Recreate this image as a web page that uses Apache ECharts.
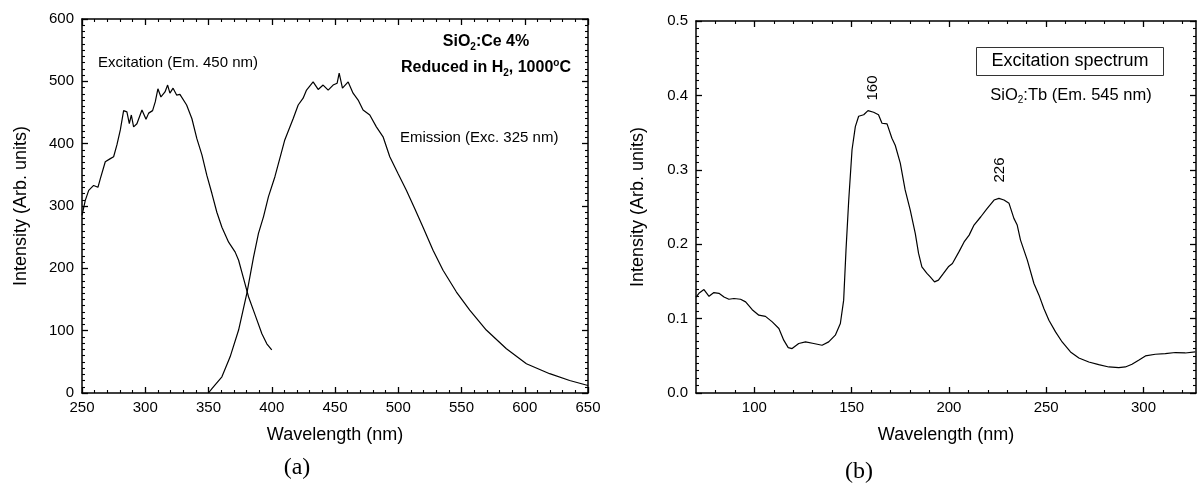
<!DOCTYPE html>
<html>
<head>
<meta charset="utf-8">
<script src="https://cdn.jsdelivr.net/npm/echarts@6/dist/echarts.min.js"></script>
<style>
html,body{margin:0;padding:0;background:#fff;}
#c{width:1201px;height:487px;}
</style>
</head>
<body>
<div id="c"></div>
<script>
// ---- Data ----
// (a) SiO2:Ce excitation spectrum (Em. 450 nm)
const excX = [250,252.6,255.3,259.2,262.6,264.5,268.4,272.4,275,277.6,280.3,282.9,285.5,287.4,289,290.8,293.4,297.4,300.6,302.7,305.8,307.9,310,312.4,315.6,317.7,319.5,322,324.8,327.4,332.7,336.9,340.8,344.8,348.7,352.7,356.6,360.6,365.9,371.1,373.8,377.7,381.7,386.9,392.2,396.1,400];
const excY = [285,309,325,333,330,344,371,376,379,398,422,453,451,432,446,427,432,454,439,449,453,467,488,475,483,494,481,489,478,479,462,440,408,382,349,320,290,266,242,226,213,184,154,125,95,79,69];
// (a) SiO2:Ce emission spectrum (Exc. 325 nm)
const emX = [350,352.7,360.6,367.1,373.8,380.3,385.6,389.5,393.5,397.4,402.5,407.4,410.3,416.9,420.9,424.8,427.5,432.7,436.7,440.6,444.6,448.5,451.7,453.3,455.9,460.4,464.3,468.3,472.2,477.5,482.7,488,493.3,499.8,506.5,513,519.6,527.5,535.4,546,556.5,569.6,585.5,601.3,619.7,635.5,650];
const emY = [0,7,26,58,101,160,218,256,283,315,347,384,406,440,462,473,486,499,487,494,486,494,497,513,489,499,481,470,454,446,427,411,379,352,325,296,266,229,197,162,133,101,71,47,31,20,12];
// (b) SiO2:Tb excitation spectrum (Em. 545 nm)
const tbX = [70,71.5,74.1,76.7,79.2,81.8,84.4,86.9,89.5,92.9,95.5,98.9,102.3,105.7,109.2,112.6,115.1,117.4,119.4,122.8,126.3,130.5,134.8,138.2,141.6,144.2,145.9,147.1,148.5,150.2,151.9,153.6,156.2,158.4,161.3,163.8,165.6,168.2,170.7,172.4,175,177.5,180.1,182.7,184.4,186.1,188.7,190.4,192.6,194.6,197.2,199.7,201.8,205.2,207.8,210.4,212.9,216.4,219.7,223.2,225.7,228.3,230.9,233.4,235.1,236.8,240.3,243.7,246.3,248.8,251.4,254.8,258.2,262.5,266.8,271.9,277,282.2,287.3,290.7,294.1,297.5,301,306.1,311.2,316.4,321.5,326.6];
const tbY = [0.129,0.134,0.139,0.130,0.135,0.134,0.129,0.126,0.127,0.126,0.1225,0.112,0.1046,0.103,0.0956,0.0867,0.071,0.061,0.0597,0.0665,0.0687,0.0665,0.0642,0.0687,0.0777,0.0934,0.1248,0.192,0.259,0.327,0.358,0.372,0.374,0.3795,0.3774,0.374,0.3626,0.3617,0.3424,0.333,0.309,0.273,0.246,0.2145,0.1876,0.1696,0.1607,0.156,0.1494,0.1517,0.1607,0.1696,0.174,0.19,0.203,0.2122,0.2257,0.2369,0.2482,0.2594,0.2616,0.2594,0.2549,0.2347,0.2257,0.2055,0.1786,0.1472,0.1315,0.1136,0.0978,0.0821,0.0686,0.0552,0.0471,0.0417,0.0382,0.035,0.0342,0.035,0.0386,0.044,0.0498,0.0521,0.053,0.0544,0.0538,0.0552];
// axis tick values
const aXTicks = [250,300,350,400,450,500,550,600,650];
const aYTicks = [0,100,200,300,400,500,600];
const bXMajor = [100,150,200,250,300];
const bXMinor = [80,90,110,120,130,140,160,170,180,190,210,220,230,240,260,270,280,290,310,320];
const bYTicks = [0,0.1,0.2,0.3,0.4,0.5];

const FONT = '"Liberation Sans", Arial, Helvetica, sans-serif';
const SERIF = '"Liberation Serif", "Times New Roman", serif';
const pairs = (xs, ys) => xs.map((x, i) => [x, ys[i]]);

const lineCol = '#000';
const axLine = {show: true, onZero: false, lineStyle: {color: lineCol, width: 1.5}};
const tickMaj = {show: true, inside: true, length: 6, lineStyle: {color: lineCol, width: 1.3}};
const tickMin = {show: true, length: 3, splitNumber: 5, lineStyle: {color: lineCol, width: 1.1}};
const lab = {color: '#000', fontFamily: FONT, fontSize: 15};
const nameStyle = {color: '#000', fontFamily: FONT, fontSize: 18};

function valAxis(o) {
  return Object.assign({
    type: 'value', splitLine: {show: false}, axisLine: axLine, axisTick: tickMaj,
    axisLabel: {show: false}, minorSplitLine: {show: false}
  }, o);
}

const xAxes = [
  // (a) bottom
  valAxis({gridIndex: 0, position: 'bottom', min: 250, max: 650, interval: 50,
    minorTick: Object.assign({}, tickMin, {splitNumber: 5}),
    axisLabel: Object.assign({show: true, margin: 7}, lab),
    name: 'Wavelength (nm)', nameLocation: 'middle', nameGap: 33, nameTextStyle: nameStyle}),
  // (a) top
  valAxis({gridIndex: 0, position: 'top', min: 250, max: 650, interval: 50,
    minorTick: Object.assign({}, tickMin, {splitNumber: 5})}),
  // (b) bottom major
  valAxis({gridIndex: 1, position: 'bottom', min: 70, max: 327,
    axisTick: Object.assign({}, tickMaj, {customValues: bXMajor}),
    axisLabel: Object.assign({show: true, margin: 7, customValues: bXMajor}, lab),
    name: 'Wavelength (nm)', nameLocation: 'middle', nameGap: 33, nameTextStyle: nameStyle}),
  // (b) bottom minor
  valAxis({gridIndex: 1, position: 'bottom', min: 70, max: 327, axisLine: {show: false, onZero: false},
    axisTick: Object.assign({}, tickMaj, {length: 3, lineStyle: {color: lineCol, width: 1.1}, customValues: bXMinor})}),
  // (b) top major
  valAxis({gridIndex: 1, position: 'top', min: 70, max: 327,
    axisTick: Object.assign({}, tickMaj, {customValues: bXMajor})}),
  // (b) top minor
  valAxis({gridIndex: 1, position: 'top', min: 70, max: 327, axisLine: {show: false, onZero: false},
    axisTick: Object.assign({}, tickMaj, {length: 3, lineStyle: {color: lineCol, width: 1.1}, customValues: bXMinor})})
];

const yAxes = [
  valAxis({gridIndex: 0, position: 'left', min: 0, max: 600, interval: 100,
    minorTick: Object.assign({}, tickMin, {splitNumber: 10}),
    axisLabel: Object.assign({show: true, margin: 8}, lab),
    name: 'Intensity (Arb. units)', nameLocation: 'middle', nameGap: 52, nameTextStyle: nameStyle}),
  valAxis({gridIndex: 0, position: 'right', min: 0, max: 600, interval: 100,
    minorTick: Object.assign({}, tickMin, {splitNumber: 10})}),
  valAxis({gridIndex: 1, position: 'left', min: 0, max: 0.5, interval: 0.1,
    minorTick: Object.assign({}, tickMin, {splitNumber: 10}),
    axisLabel: Object.assign({show: true, margin: 8, formatter: v => v.toFixed(1)}, lab),
    name: 'Intensity (Arb. units)', nameLocation: 'middle', nameGap: 49, nameTextStyle: nameStyle}),
  valAxis({gridIndex: 1, position: 'right', min: 0, max: 0.5, interval: 0.1,
    minorTick: Object.assign({}, tickMin, {splitNumber: 10})})
];

const lineSeries = (name, data, xi, yi) => ({
  type: 'line', name, data, xAxisIndex: xi, yAxisIndex: yi, showSymbol: false,
  symbol: 'none', smooth: false, silent: true, animation: false,
  lineStyle: {color: '#000', width: 1.2}
});

const txt = (text, x, y, size, extra) => ({
  type: 'text', x, y, silent: true,
  style: Object.assign({text, fill: '#000', font: size + 'px ' + FONT, align: 'left', verticalAlign: 'middle'}, extra || {})
});

const richBold = {
  n: {fontFamily: FONT, fontSize: 16, fontWeight: 'bold', color: '#000', lineHeight: 20},
  s: {fontFamily: FONT, fontSize: 10, fontWeight: 'bold', color: '#000', lineHeight: 20, verticalAlign: 'bottom', padding: [9, 0, 0, 0]},
  u: {fontFamily: FONT, fontSize: 10, fontWeight: 'bold', color: '#000', lineHeight: 20, verticalAlign: 'top', padding: [0, 0, 9, 0]}
};
const richReg = {
  n: {fontFamily: FONT, fontSize: 16.5, color: '#000', lineHeight: 20},
  s: {fontFamily: FONT, fontSize: 10, color: '#000', lineHeight: 20, verticalAlign: 'bottom', padding: [9, 0, 0, 0]}
};

const chart = echarts.init(document.getElementById('c'), null, {renderer: 'canvas'});
chart.setOption({
  animation: false,
  backgroundColor: '#fff',
  grid: [
    {left: 82, top: 19, width: 506, height: 374, containLabel: false},
    {left: 696, top: 21, width: 500, height: 372, containLabel: false}
  ],
  xAxis: xAxes,
  yAxis: yAxes,
  series: [
    lineSeries('Excitation (Em. 450 nm)', pairs(excX, excY), 0, 0),
    lineSeries('Emission (Exc. 325 nm)', pairs(emX, emY), 0, 0),
    lineSeries('SiO2:Tb (Em. 545 nm)', pairs(tbX, tbY), 2, 2)
  ],
  graphic: [
    txt('Excitation (Em. 450 nm)', 98, 63, 15),
    txt('Emission (Exc. 325 nm)', 400, 138, 15),
    {type: 'text', x: 486, y: 42, silent: true, style: {text: '{n|SiO}{s|2}{n|:Ce 4%}', rich: richBold, align: 'center', verticalAlign: 'middle'}},
    {type: 'text', x: 486, y: 68, silent: true, style: {text: '{n|Reduced in H}{s|2}{n|, 1000}{u|o}{n|C}', rich: richBold, align: 'center', verticalAlign: 'middle'}},
    {type: 'rect', silent: true, shape: {x: 976.5, y: 47.5, width: 187, height: 28}, style: {fill: '#fff', stroke: '#333', lineWidth: 1}},
    txt('Excitation spectrum', 1070, 61, 18, {align: 'center'}),
    {type: 'text', x: 1071, y: 95, silent: true, style: {text: '{n|SiO}{s|2}{n|:Tb (Em. 545 nm)}', rich: richReg, align: 'center', verticalAlign: 'middle'}},
    {type: 'text', x: 873, y: 88, rotation: Math.PI / 2, silent: true, style: {text: '160', fill: '#000', font: '15px ' + FONT, align: 'center', verticalAlign: 'middle'}},
    {type: 'text', x: 1000, y: 170, rotation: Math.PI / 2, silent: true, style: {text: '226', fill: '#000', font: '15px ' + FONT, align: 'center', verticalAlign: 'middle'}},
    txt('(a)', 297, 468, 24, {align: 'center', font: '24px ' + SERIF}),
    txt('(b)', 859, 472, 24, {align: 'center', font: '24px ' + SERIF})
  ]
});
</script>
</body>
</html>
